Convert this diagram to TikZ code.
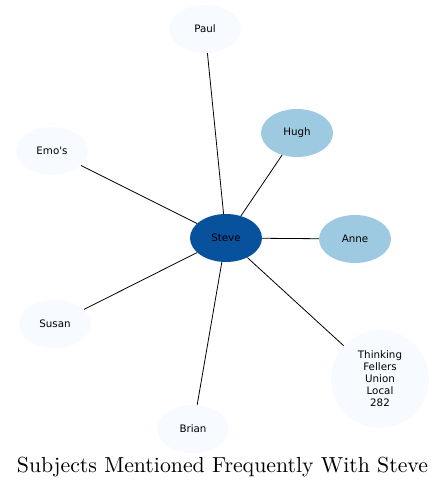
\documentclass[tikz,border=0pt]{standalone}
\usepackage{fontspec}
\newfontfamily\nodefont{DejaVu Sans}
\usetikzlibrary{shapes.geometric}
\definecolor{cLight}{HTML}{F7FBFF}
\definecolor{cMid}{HTML}{9ECAE1}
\definecolor{cDark}{HTML}{08519C}
\tikzset{
  ent/.style={ellipse, minimum width=72pt, minimum height=48pt, inner sep=0pt,
    font=\nodefont\fontsize{10.3pt}{12pt}\selectfont, text=black, align=center},
  lightent/.style={ent, fill=cLight},
  mident/.style={ent, fill=cMid},
  darkent/.style={ent, fill=cDark},
  link/.style={draw=black, line width=0.8pt}
}
\begin{document}
\begin{tikzpicture}[x=1pt,y=-1pt]
\useasboundingbox (0,0) rectangle (445,489);
\node[darkent] (steve) at (226,238) {Steve};
\node[lightent] (paul) at (205,29) {Paul};
\node[mident] (hugh) at (297,133) {Hugh};
\node[mident] (anne) at (355,239) {Anne};
\node[lightent] (emos) at (52,151) {Emo's};
\node[lightent] (susan) at (55,324) {Susan};
\node[lightent] (brian) at (193,429) {Brian};
\node[lightent, circle, minimum size=98pt] (tf) at (380,379) {Thinking\\Fellers\\Union\\Local\\282};
\draw[link] (steve) -- (paul);
\draw[link] (steve) -- (hugh);
\draw[link] (steve) -- (anne);
\draw[link] (steve) -- (emos);
\draw[link] (steve) -- (susan);
\draw[link] (steve) -- (brian);
\draw[link] (steve) -- (tf);
\node[inner sep=0pt] (caption) at (222.5,467) {\resizebox{411pt}{!}{Subjects Mentioned Frequently With Steve}};
\end{tikzpicture}
\end{document}
